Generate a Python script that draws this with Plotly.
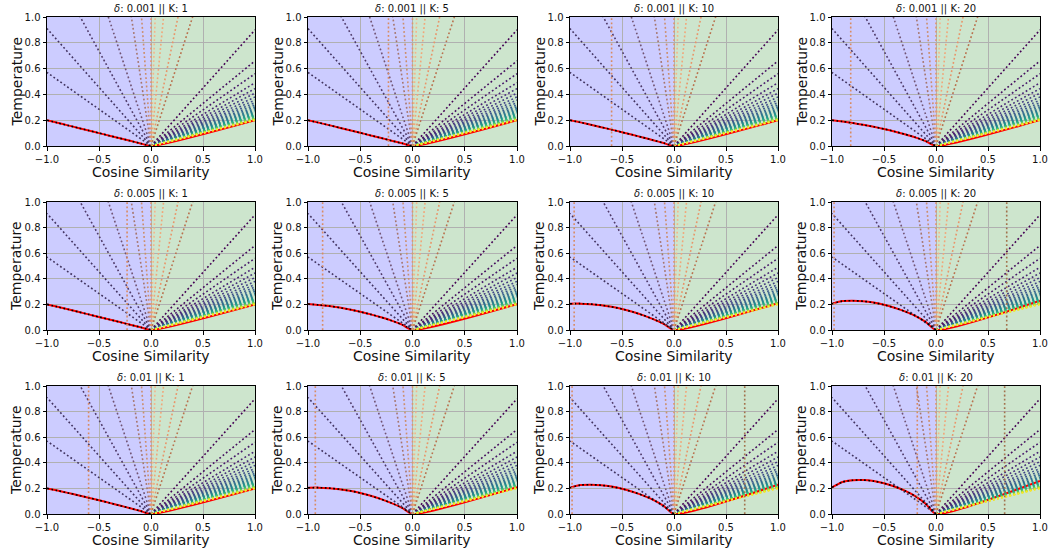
import plotly.graph_objects as go
from plotly.colors import sample_colorscale

# ---------------- data ----------------
deltas = ["0.001", "0.005", "0.01"]
ks = ["1", "5", "10", "20"]

x_ticks = [-1.0, -0.5, 0.0, 0.5, 1.0]
y_ticks = [0.0, 0.2, 0.4, 0.6, 0.8, 1.0]

# red (optimal) curve sampled at these cosine similarities
curve_x = [-1.0, -0.9, -0.8, -0.7, -0.6, -0.5, -0.4, -0.3, -0.2, -0.1, 0.0, 1.0]

red_0001_k1 = [0.200, 0.180, 0.160, 0.140, 0.120, 0.100, 0.080, 0.060, 0.040, 0.020, 0.0, 0.200]
red_0001_k5 = [0.200, 0.181, 0.162, 0.142, 0.122, 0.102, 0.082, 0.062, 0.041, 0.021, 0.0, 0.200]
red_0001_k10 = [0.200, 0.183, 0.165, 0.146, 0.127, 0.107, 0.087, 0.066, 0.045, 0.023, 0.0, 0.200]
red_0001_k20 = [0.200, 0.190, 0.178, 0.164, 0.149, 0.132, 0.113, 0.091, 0.067, 0.038, 0.0, 0.201]

red_0005_k1 = [0.200, 0.181, 0.162, 0.142, 0.122, 0.102, 0.082, 0.062, 0.041, 0.021, 0.0, 0.200]
red_0005_k5 = [0.203, 0.196, 0.187, 0.175, 0.160, 0.142, 0.122, 0.099, 0.073, 0.042, 0.0, 0.202]
red_0005_k10 = [0.205, 0.206, 0.202, 0.194, 0.181, 0.164, 0.142, 0.116, 0.085, 0.048, 0.0, 0.210]
red_0005_k20 = [0.205, 0.226, 0.229, 0.225, 0.214, 0.197, 0.174, 0.146, 0.111, 0.064, 0.0, 0.228]

red_001_k1 = [0.200, 0.183, 0.165, 0.146, 0.127, 0.107, 0.087, 0.066, 0.045, 0.023, 0.0, 0.200]
red_001_k5 = [0.205, 0.206, 0.202, 0.194, 0.181, 0.164, 0.142, 0.116, 0.085, 0.048, 0.0, 0.210]
red_001_k10 = [0.205, 0.226, 0.229, 0.225, 0.214, 0.197, 0.174, 0.146, 0.111, 0.064, 0.0, 0.228]
red_001_k20 = [0.208, 0.250, 0.264, 0.265, 0.257, 0.240, 0.215, 0.182, 0.140, 0.080, 0.0, 0.258]

red_curves = [
    [red_0001_k1, red_0001_k5, red_0001_k10, red_0001_k20],
    [red_0005_k1, red_0005_k5, red_0005_k10, red_0005_k20],
    [red_001_k1, red_001_k5, red_001_k10, red_001_k20],
]

# vertical dotted markers (cosine similarity positions) per panel
vlines_0001 = [[], [-0.23], [-0.60], [-0.82]]
vlines_0005 = [[-0.23], [-0.86], [-0.96], [-0.98, 0.68]]
vlines_001 = [[-0.60], [-0.93], [-0.98, 0.68], [-0.18, 0.66]]
vlines = [vlines_0001, vlines_0005, vlines_001]
vline_colors = ["#d98b62", "#a2714c"]

# fan of level lines on the negative side: temperature reached at cos = -1
left_slopes = [0.57, 0.91, 1.47, 2.44, 5.3, 11.0]
left_colors = ["#40335f", "#423361", "#4f3a69", "#715373", "#a6756d", "#cc8e6c"]

# steep level lines on the positive side (temperature reached at cos = +1)
steep_right_slopes = [25.0, 8.3, 3.85, 2.5]
steep_right_colors = ["#f4b48c", "#f1a679", "#e8956a", "#b9724f"]

# viridis family on the positive side: temperature reached at cos = +1
right_slopes = [0.90, 0.66, 0.56, 0.49, 0.445, 0.41, 0.38, 0.356, 0.336, 0.318,
                0.303, 0.29, 0.279, 0.269, 0.26, 0.252, 0.245, 0.239, 0.233, 0.228,
                0.224, 0.22, 0.217, 0.214, 0.211, 0.209, 0.207, 0.205, 0.203, 0.2015, 0.200]

# ---------------- layout geometry ----------------
W, H = 1049, 552
col_px = [(47, 255), (308, 517), (570, 778), (832, 1040)]
row_px = [(17, 146), (202, 330), (386, 514)]

DOT = "1.8px,2.4px"
right_colors = sample_colorscale("Viridis", [i / (len(right_slopes) - 1) for i in range(len(right_slopes))])

fig = go.Figure()
annotations = []
shapes = []

for r in range(3):
    for c in range(4):
        n = r * 4 + c + 1
        xa = "x" if n == 1 else f"x{n}"
        ya = "y" if n == 1 else f"y{n}"
        xkey = "xaxis" if n == 1 else f"xaxis{n}"
        ykey = "yaxis" if n == 1 else f"yaxis{n}"
        x0p, x1p = col_px[c]
        y0p, y1p = row_px[r]
        xd = [x0p / W, x1p / W]
        yd = [1 - y1p / H, 1 - y0p / H]

        common = dict(showline=True, mirror=True, linecolor="black", linewidth=1,
                      ticks="outside", ticklen=3.5, tickwidth=0.8, tickcolor="black",
                      showgrid=True, gridcolor="#b0b0b0", gridwidth=0.8, zeroline=False,
                      automargin=False,
                      tickfont=dict(family="DejaVu Sans", size=10, color="#111"),
                      tickformat=".1f", fixedrange=True)
        fig.update_layout(**{
            xkey: dict(domain=xd, range=[-1, 1], tickvals=x_ticks, anchor=ya, **common),
            ykey: dict(domain=yd, range=[0, 1], tickvals=y_ticks, anchor=xa, **common),
        })

        # background spans
        shapes.append(dict(type="rect", xref=xa, yref=f"{ya} domain", x0=-1, x1=0, y0=0, y1=1,
                           fillcolor="rgb(204,204,255)", line_width=0, layer="below"))
        shapes.append(dict(type="rect", xref=xa, yref=f"{ya} domain", x0=0, x1=1, y0=0, y1=1,
                           fillcolor="rgb(205,229,205)", line_width=0, layer="below"))

        red = red_curves[r][c]
        # red solid curve
        fig.add_trace(go.Scatter(x=curve_x, y=red, mode="lines", xaxis=xa, yaxis=ya,
                                 line=dict(color="red", width=2, shape="spline", smoothing=0.6),
                                 showlegend=False, hoverinfo="skip"))

        # viridis fan (positive side)
        for s, col in zip(right_slopes, right_colors):
            fig.add_trace(go.Scatter(x=[0, 1], y=[0, s], mode="lines", xaxis=xa, yaxis=ya,
                                     line=dict(color=col, width=1.6, dash=DOT),
                                     showlegend=False, hoverinfo="skip"))
        # steep positive-side lines
        for s, col in zip(steep_right_slopes, steep_right_colors):
            fig.add_trace(go.Scatter(x=[0, 1], y=[0, s], mode="lines", xaxis=xa, yaxis=ya,
                                     line=dict(color=col, width=1.6, dash=DOT),
                                     showlegend=False, hoverinfo="skip"))
        # negative-side fan
        for s, col in zip(left_slopes, left_colors):
            fig.add_trace(go.Scatter(x=[0, -1], y=[0, s], mode="lines", xaxis=xa, yaxis=ya,
                                     line=dict(color=col, width=1.6, dash=DOT),
                                     showlegend=False, hoverinfo="skip"))
        # vertical line at zero
        fig.add_trace(go.Scatter(x=[0, 0], y=[0, 1], mode="lines", xaxis=xa, yaxis=ya,
                                 line=dict(color="#e0976a", width=1.6, dash=DOT),
                                 showlegend=False, hoverinfo="skip"))
        # black dotted level line along red curve (negative side)
        fig.add_trace(go.Scatter(x=curve_x[:-1], y=red[:-1], mode="lines", xaxis=xa, yaxis=ya,
                                 line=dict(color="black", width=1.6, dash=DOT, shape="spline", smoothing=0.6),
                                 showlegend=False, hoverinfo="skip"))
        # vertical markers
        for i, v in enumerate(vlines[r][c]):
            col = vline_colors[0] if v < 0 else vline_colors[1]
            fig.add_trace(go.Scatter(x=[v, v], y=[0, 1], mode="lines", xaxis=xa, yaxis=ya,
                                     line=dict(color=col, width=1.6, dash=DOT),
                                     showlegend=False, hoverinfo="skip"))

        xc = (xd[0] + xd[1]) / 2
        annotations.append(dict(text=f"<i>δ</i>: {deltas[r]} || K: {ks[c]}", x=xc, y=1 - (y0p - 8) / H,
                                xref="paper", yref="paper", showarrow=False, xanchor="center",
                                yanchor="middle", font=dict(family="DejaVu Sans", size=10, color="#111")))
        annotations.append(dict(text="Cosine Similarity", x=xc, y=1 - (y1p + 26) / H,
                                xref="paper", yref="paper", showarrow=False, xanchor="center",
                                yanchor="middle", font=dict(family="DejaVu Sans", size=14, color="#111")))
        annotations.append(dict(text="Temperature", x=(x0p - 31) / W, y=(yd[0] + yd[1]) / 2,
                                xref="paper", yref="paper", showarrow=False, xanchor="center",
                                yanchor="middle", textangle=-90,
                                font=dict(family="DejaVu Sans", size=14, color="#111")))

fig.update_layout(width=W, height=H, margin=dict(l=0, r=0, t=0, b=0, autoexpand=False),
                  paper_bgcolor="white", plot_bgcolor="white",
                  annotations=annotations, shapes=shapes, showlegend=False)

fig.write_html("out.html", config={"displayModeBar": False},
               post_script="document.body.style.margin='0';document.body.style.overflow='hidden';")
